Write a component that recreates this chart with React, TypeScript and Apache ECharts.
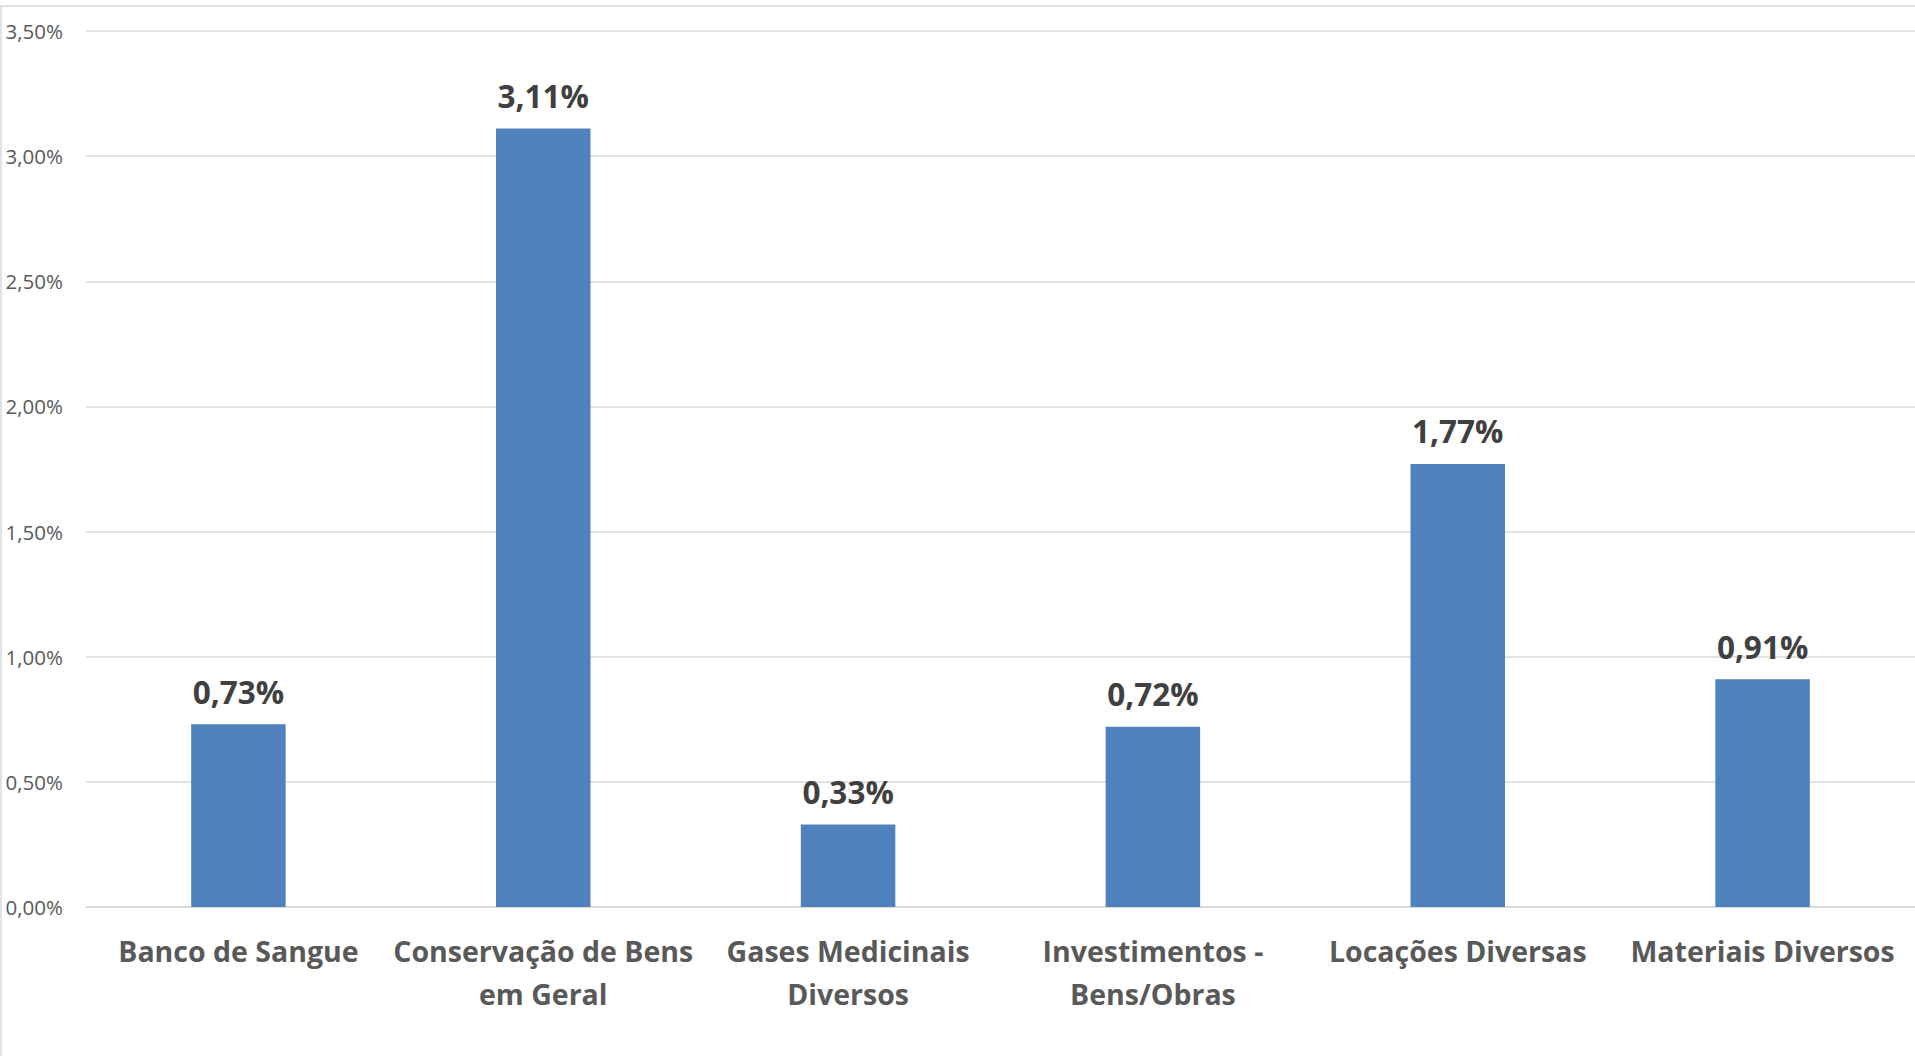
import React, { useEffect, useRef } from "react";
import * as echarts from "echarts";

const categories = [
  "Banco de Sangue",
  "Conservação de Bens\nem Geral",
  "Gases Medicinais\nDiversos",
  "Investimentos -\nBens/Obras",
  "Locações Diversas",
  "Materiais Diversos",
];
const values = [0.73, 3.11, 0.33, 0.72, 1.77, 0.91];
const yMin = 0;
const yMax = 3.5;
const yInterval = 0.5;

const fmt = (v: number) => v.toFixed(2).replace(".", ",") + "%";

export default function App() {
  const ref = useRef<HTMLDivElement>(null);
  useEffect(() => {
    if (!ref.current) return;
    const chart = echarts.init(ref.current, undefined, { renderer: "svg" });
    chart.setOption({
      animation: false,
      backgroundColor: "#ffffff",
      textStyle: { fontFamily: "Open Sans" },
      grid: { left: 86, right: 0, top: 31, bottom: 149, containLabel: false },
      graphic: [
        { type: "line", shape: { x1: 0, y1: 6, x2: 1915, y2: 6 }, style: { stroke: "#d9d9d9", lineWidth: 1.5 } },
        { type: "line", shape: { x1: 1, y1: 6, x2: 1, y2: 1056 }, style: { stroke: "#d9d9d9", lineWidth: 1.5 } },
      ],
      xAxis: {
        type: "category",
        data: categories,
        axisLine: { show: true, lineStyle: { color: "#d9d9d9", width: 1.5 } },
        axisTick: { show: false },
        axisLabel: {
          interval: 0,
          margin: 22,
          color: "#595959",
          fontSize: 28.5,
          fontWeight: "bold",
          fontFamily: "Open Sans",
          lineHeight: 43,
        },
      },
      yAxis: {
        type: "value",
        min: yMin,
        max: yMax,
        interval: yInterval,
        axisLine: { show: false },
        axisTick: { show: false },
        splitLine: { lineStyle: { color: "#d9d9d9", width: 1.5 } },
        axisLabel: {
          margin: 23,
          color: "#595959",
          fontSize: 20.5,
          fontFamily: "Open Sans",
          formatter: (v: number) => fmt(v),
        },
      },
      series: [
        {
          type: "bar",
          data: values,
          barWidth: "31%",
          itemStyle: { color: "#4f81bd" },
          label: {
            show: true,
            position: "top",
            distance: 17,
            color: "#404040",
            fontSize: 31.5,
            fontWeight: "bold",
            fontFamily: "Open Sans",
            formatter: (p: any) => fmt(p.value),
          },
        },
      ],
    });
    return () => chart.dispose();
  }, []);
  return (
    <div
      ref={ref}
      style={{ position: "fixed", left: 0, top: 0, width: 1915, height: 1056, background: "#fff" }}
    />
  );
}
